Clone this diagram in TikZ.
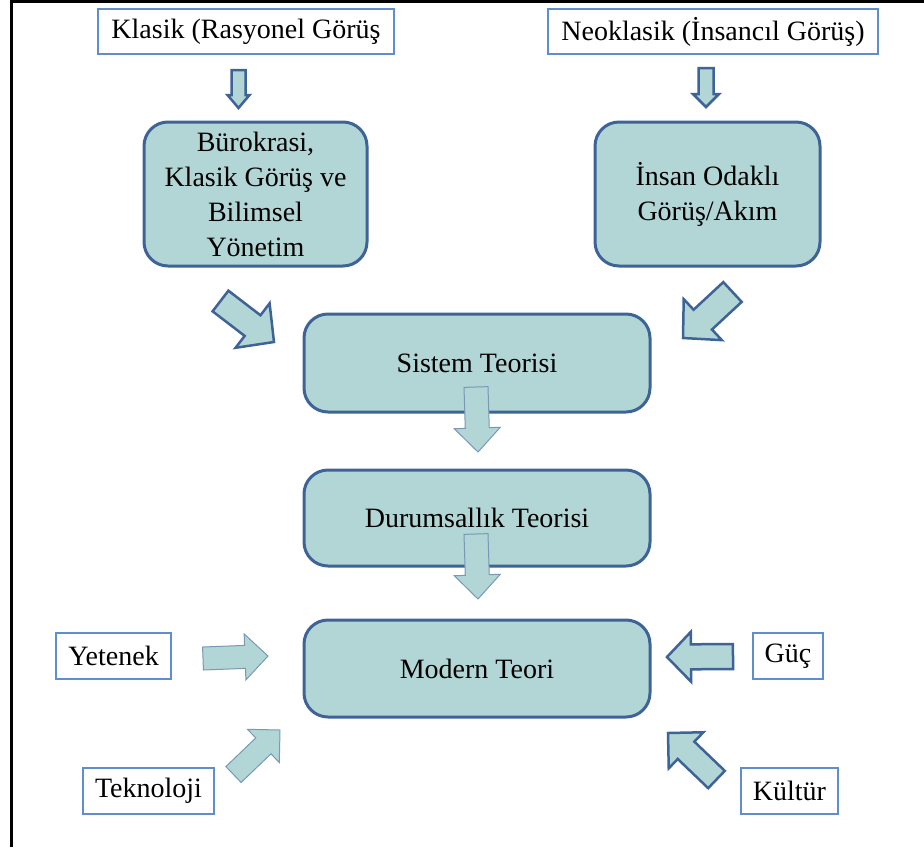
\documentclass[tikz,border=0pt]{standalone}
\usepackage{fontspec}
\setmainfont{Liberation Serif}
\usetikzlibrary{calc}

\definecolor{tealfill}{RGB}{178,213,213}
\definecolor{darkline}{RGB}{62,99,150}
\definecolor{thinline}{RGB}{120,152,182}
\definecolor{boxline}{RGB}{96,142,204}

% Block arrow: #1 style, #2 tail centre, #3 tip, #4 half shaft width,
% #5 half head width, #6 head length
\newcommand\blockarrow[6]{%
  \path (#2) coordinate (bt) (#3) coordinate (bp);
  \path ($(bp)!#6!(bt)$) coordinate (bh);
  \draw[#1] ($(bt)!#4!90:(bp)$) -- ($(bh)!#4!-90:(bt)$) -- ($(bh)!#5!-90:(bt)$)
    -- (bp) -- ($(bh)!#5!90:(bt)$) -- ($(bh)!#4!90:(bt)$) -- ($(bt)!#4!-90:(bp)$) -- cycle;
}

\begin{document}
\begin{tikzpicture}[x=1pt,y=-1pt,
  font=\fontsize{28}{34}\selectfont,
  labelbox/.style={draw=boxline, line width=1.5pt, fill=white, inner sep=0pt},
  stagebox/.style={draw=darkline, line width=3pt, fill=tealfill, rounded corners=24pt,
    align=center, inner sep=0pt},
  darkarrow/.style={draw=darkline, line width=2.5pt, fill=tealfill, line join=miter},
  softarrow/.style={draw=thinline, line width=1pt, fill=tealfill, line join=miter}]

\useasboundingbox (0,0) rectangle (924,847);

% outer frame (left and top edges)
\draw[line width=3pt, black] (11.5,847) -- (11.5,1.5) -- (924,1.5);

% source labels
\node[labelbox, minimum width=296pt, minimum height=45pt] (klasik) at (246,31.5) {Klasik (Rasyonel Görüş};
\node[labelbox, minimum width=330pt, minimum height=45pt] (neo) at (713,31.5) {Neoklasik (İnsancıl Görüş)};

% main stages
\node[stagebox, minimum width=223pt, minimum height=144pt, font=\fontsize{28}{35}\selectfont] (buro) at (255.5,194)
  {Bürokrasi,\\Klasik Görüş ve\\Bilimsel\\Yönetim};
\node[stagebox, minimum width=225pt, minimum height=144pt, font=\fontsize{28}{35}\selectfont] (insan) at (707.5,194)
  {İnsan Odaklı\\Görüş/Akım};
\node[stagebox, minimum width=346pt, minimum height=98pt] (sistem) at (477,363) {Sistem Teorisi};
\node[stagebox, minimum width=346pt, minimum height=96pt] (durum) at (477,518) {Durumsallık Teorisi};
\node[stagebox, minimum width=346pt, minimum height=97pt] (modern) at (477,668.5) {Modern Teori};

% influencing factors
\node[labelbox, minimum width=115pt, minimum height=46pt] (yetenek) at (113.5,656) {Yetenek};
\node[labelbox, minimum width=131pt, minimum height=46pt] (tekno) at (148.5,791) {Teknoloji};
\node[labelbox, minimum width=70pt, minimum height=46pt] (guc) at (788,656) {Güç};
\node[labelbox, minimum width=97pt, minimum height=46pt] (kultur) at (789.5,791) {Kültür};

% arrow anchor points
\coordinate (kt) at (238.5,70);   \coordinate (kp) at (238.5,108);
\coordinate (nt) at (706,68);     \coordinate (np) at (706,107);
\coordinate (bt1) at (220.5,301); \coordinate (bp1) at (274,342);
\coordinate (it1) at (732.5,292); \coordinate (ip1) at (683,338);
\coordinate (st1) at (476,387);   \coordinate (sp1) at (478,452);
\coordinate (dt1) at (476,534);   \coordinate (dp1) at (478,599);
\coordinate (yt1) at (203,658.5); \coordinate (yp1) at (268,656);
\coordinate (tt1) at (233.5,774.5); \coordinate (tp1) at (280,730);
\coordinate (gt1) at (733,656.5); \coordinate (gp1) at (667,657);
\coordinate (ct1) at (716.5,779.5); \coordinate (cp1) at (668,733);

% arrows
\blockarrow{darkarrow}{kt}{kp}{7pt}{11pt}{13pt}
\blockarrow{darkarrow}{nt}{np}{7.5pt}{13pt}{13pt}
\blockarrow{darkarrow}{bt1}{bp1}{13pt}{28pt}{27pt}
\blockarrow{darkarrow}{it1}{ip1}{13.5pt}{28pt}{27pt}
\blockarrow{softarrow}{st1}{sp1}{12pt}{23pt}{24pt}
\blockarrow{softarrow}{dt1}{dp1}{12pt}{23pt}{24pt}
\blockarrow{softarrow}{yt1}{yp1}{11.5pt}{23pt}{23pt}
\blockarrow{softarrow}{tt1}{tp1}{11pt}{23pt}{23pt}
\blockarrow{darkarrow}{gt1}{gp1}{12.5pt}{25pt}{24pt}
\blockarrow{darkarrow}{ct1}{cp1}{12pt}{25pt}{25pt}

\end{tikzpicture}
\end{document}
